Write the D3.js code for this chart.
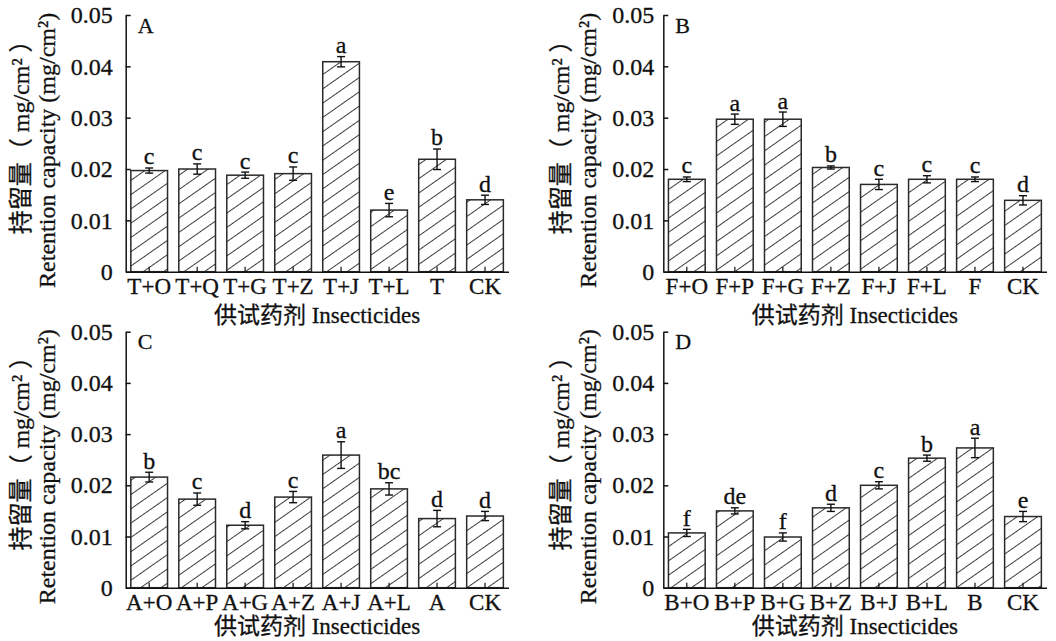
<!DOCTYPE html>
<html>
<head>
<meta charset="utf-8">
<script src="https://cdn.jsdelivr.net/npm/d3@7"></script>
<style>
  body { margin: 0; background: #fff; }
  svg { display: block; }
  svg text { stroke: #111; stroke-width: 0.3px; }
</style>
</head>
<body>
<div id="chart"></div>
<script>
// tick values / labels shared by all four panels
const yTickValues = [0, 0.01, 0.02, 0.03, 0.04, 0.05]
const yTickLabels = ["0", "0.01", "0.02", "0.03", "0.04", "0.05"]

// panel A
const aNames   = ["T+O", "T+Q", "T+G", "T+Z", "T+J", "T+L", "T", "CK"]
const aMeans   = [0.0197, 0.0200, 0.0188, 0.0191, 0.0409, 0.0120, 0.0219, 0.0140]
const aErrors  = [0.0005, 0.0010, 0.0006, 0.0013, 0.0010, 0.0013, 0.0020, 0.0009]
const aLetters = ["c", "c", "c", "c", "a", "e", "b", "d"]

// panel B
const bNames   = ["F+O", "F+P", "F+G", "F+Z", "F+J", "F+L", "F", "CK"]
const bMeans   = [0.0180, 0.0297, 0.0297, 0.0203, 0.0170, 0.0180, 0.0180, 0.0139]
const bErrors  = [0.00045, 0.0010, 0.0014, 0.0003, 0.0010, 0.0007, 0.00045, 0.0009]
const bLetters = ["c", "a", "a", "b", "c", "c", "c", "d"]

// panel C
const cNames   = ["A+O", "A+P", "A+G", "A+Z", "A+J", "A+L", "A", "CK"]
const cMeans   = [0.0216, 0.0173, 0.0122, 0.0177, 0.0259, 0.0193, 0.0135, 0.0140]
const cErrors  = [0.00095, 0.0012, 0.0007, 0.0011, 0.0026, 0.0012, 0.0016, 0.0009]
const cLetters = ["b", "c", "d", "c", "a", "bc", "d", "d"]

// panel D
const dNames   = ["B+O", "B+P", "B+G", "B+Z", "B+J", "B+L", "B", "CK"]
const dMeans   = [0.0107, 0.0150, 0.0099, 0.0156, 0.0200, 0.0253, 0.0273, 0.0139]
const dErrors  = [0.0007, 0.0006, 0.0008, 0.0007, 0.0007, 0.0006, 0.0019, 0.0010]
const dLetters = ["f", "de", "f", "d", "c", "b", "a", "e"]

const yTitle1 = "持留量（ mg/cm² ）"
const yTitle2 = "Retention capacity (mg/cm²)"
const xTitle = "供试药剂 Insecticides"

const fontFam = "'Liberation Serif', 'Times New Roman', 'Noto Sans CJK SC', serif"

const width = 1056, height = 641

const svg = d3.select("#chart")
  .append("svg")
    .attr("width", width)
    .attr("height", height)
    .style("font-family", fontFam)

// hatch fill for the bars
svg.append("defs").append("pattern")
    .attr("id", "hatch")
    .attr("patternUnits", "userSpaceOnUse")
    .attr("width", 12)
    .attr("height", 11.7)
    .attr("patternTransform", "rotate(-35)")
  .append("line")
    .attr("x1", 0).attr("y1", 0.5)
    .attr("x2", 12).attr("y2", 0.5)
    .attr("stroke", "#3a3a3a")
    .attr("stroke-width", 1)

// layout of each panel (plot area)
const panels = [
  {id: "A", names: aNames, means: aMeans, errs: aErrors, letters: aLetters,
   x0: 125.7, x1: 508.5, top: 15, zero: 271.7, tickGap: 13, lab1: 97, lab2: 71, titleOff: 51},
  {id: "B", names: bNames, means: bMeans, errs: bErrors, letters: bLetters,
   x0: 663.3, x1: 1046.5, top: 15, zero: 271.7, tickGap: 9, lab1: 94, lab2: 67, titleOff: 51},
  {id: "C", names: cNames, means: cMeans, errs: cErrors, letters: cLetters,
   x0: 125.7, x1: 508.5, top: 331.7, zero: 587.7, tickGap: 13, lab1: 97, lab2: 71, titleOff: 46},
  {id: "D", names: dNames, means: dMeans, errs: dErrors, letters: dLetters,
   x0: 663.3, x1: 1046.5, top: 331.7, zero: 587.7, tickGap: 9, lab1: 94, lab2: 67, titleOff: 46}
]

panels.forEach(drawPanel)

function drawPanel(p) {
  const g = svg.append("g")

  const x = d3.scaleBand()
    .domain(p.names)
    .range([p.x0, p.x1])
    .paddingInner(0.235)
    .paddingOuter(0.107)

  const y = d3.scaleLinear()
    .domain([0, 0.05])
    .range([p.zero, p.top])

  const rows = p.names.map((n, i) => ({name: n, mean: p.means[i], err: p.errs[i], letter: p.letters[i]}))

  // bars
  g.selectAll("rect.bar")
    .data(rows)
    .join("rect")
      .attr("class", "bar")
      .attr("x", d => x(d.name))
      .attr("y", d => y(d.mean))
      .attr("width", x.bandwidth())
      .attr("height", d => y(0) - y(d.mean))
      .attr("fill", "url(#hatch)")
      .attr("stroke", "#2a2a2a")
      .attr("stroke-width", 1.5)

  // error bars
  const cx = d => x(d.name) + x.bandwidth() / 2
  const capW = 4
  const eb = g.selectAll("g.err")
    .data(rows)
    .join("g")
      .attr("class", "err")
      .attr("stroke", "#111")
      .attr("stroke-width", 1.4)
  eb.append("line")
    .attr("x1", cx).attr("x2", cx)
    .attr("y1", d => y(d.mean + d.err))
    .attr("y2", d => y(d.mean - d.err))
  eb.append("line")
    .attr("x1", d => cx(d) - capW).attr("x2", d => cx(d) + capW)
    .attr("y1", d => y(d.mean + d.err)).attr("y2", d => y(d.mean + d.err))
  eb.append("line")
    .attr("x1", d => cx(d) - capW).attr("x2", d => cx(d) + capW)
    .attr("y1", d => y(d.mean - d.err)).attr("y2", d => y(d.mean - d.err))

  // significance letters
  g.selectAll("text.sig")
    .data(rows)
    .join("text")
      .attr("class", "sig")
      .attr("x", cx)
      .attr("y", d => y(d.mean + d.err) - 3.5)
      .attr("text-anchor", "middle")
      .attr("font-size", 24)
      .attr("fill", "#111")
      .text(d => d.letter)

  // y axis, ticks pointing inward
  const yAxis = g.append("g")
    .attr("transform", `translate(${p.x0},0)`)
    .call(d3.axisLeft(y)
      .tickValues(yTickValues)
      .tickFormat((d, i) => yTickLabels[i])
      .tickSizeInner(-5)
      .tickSizeOuter(0)
      .tickPadding(p.tickGap))
  yAxis.select(".domain").attr("stroke", "#111").attr("stroke-width", 1.5)
  yAxis.selectAll(".tick line").attr("stroke", "#111").attr("stroke-width", 1.5)
  yAxis.selectAll("text")
    .attr("font-size", 24)
    .attr("font-family", fontFam)
    .attr("fill", "#111")

  // x axis
  const xAxis = g.append("g")
    .attr("transform", `translate(0,${p.zero})`)
    .call(d3.axisBottom(x)
      .tickSizeInner(-5)
      .tickSizeOuter(0))
  xAxis.select(".domain").attr("stroke", "#111").attr("stroke-width", 1.5)
  xAxis.selectAll(".tick line").attr("stroke", "#111").attr("stroke-width", 1.2)
  xAxis.selectAll("text")
    .attr("dy", null)
    .attr("y", 22)
    .attr("font-size", 23)
    .attr("font-family", fontFam)
    .attr("fill", "#111")

  // panel letter
  g.append("text")
    .attr("x", p.x0 + 12)
    .attr("y", p.top + 17.5)
    .attr("font-size", 22)
    .attr("fill", "#111")
    .text(p.id)

  // y axis titles (two lines)
  const midY = (p.top + p.zero) / 2
  g.append("text")
    .attr("transform", `translate(${p.x0 - p.lab1},${midY - 12}) rotate(-90)`)
    .attr("text-anchor", "middle")
    .attr("font-size", 24)
    .attr("fill", "#111")
    .text(yTitle1)
  g.append("text")
    .attr("transform", `translate(${p.x0 - p.lab2},${midY + 7}) rotate(-90)`)
    .attr("text-anchor", "middle")
    .attr("font-size", 24)
    .attr("fill", "#111")
    .text(yTitle2)

  // x axis title
  g.append("text")
    .attr("x", (p.x0 + p.x1) / 2)
    .attr("y", p.zero + p.titleOff)
    .attr("text-anchor", "middle")
    .attr("font-size", 23)
    .attr("fill", "#111")
    .text(xTitle)
}
</script>
</body>
</html>
